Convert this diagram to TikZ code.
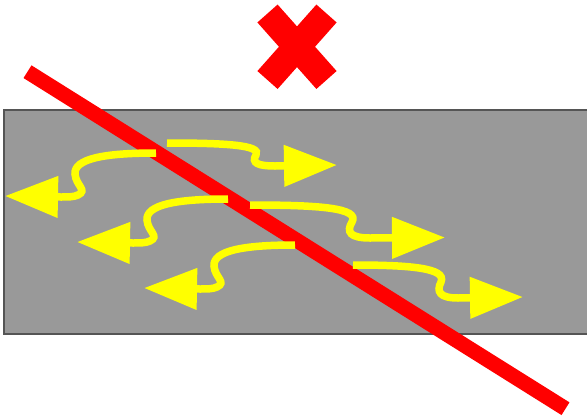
\documentclass[tikz,border=0pt]{standalone}
\usepackage{tikz}
\usetikzlibrary{arrows.meta}
\usepackage{xcolor}

\definecolor{slab}{RGB}{153,153,153}
\definecolor{slabedge}{RGB}{85,85,85}
\definecolor{cutred}{RGB}{255,0,0}
\definecolor{flowyellow}{RGB}{255,255,0}

\tikzset{
  flow/.style={draw=flowyellow, line width=7.5, line cap=butt,
    -{Triangle[length=53pt,width=40pt,fill=flowyellow]}},
  cutline/.style={draw=cutred, line width=15, line cap=butt},
  crossbar/.style={draw=cutred, line width=27, line cap=butt}
}

\begin{document}
\begin{tikzpicture}[x=1pt,y=1pt,yscale=-1,xscale=1]
  \useasboundingbox (0,0) rectangle (587,416);

  %Rectangle
  \draw [fill=slab, draw=slabedge, line width=1.5] (4,110) rectangle (600,334);

  %Straight Lines (cut)
  \draw [cutline] (27.5,71.7) -- (565.5,408.7);

  %Cross
  \draw [crossbar] (267.5,13.5) -- (326.5,80);
  \draw [crossbar] (326.5,13.5) -- (267.5,80);

  %Curve Lines (left)
  \draw [flow] (156,153) .. controls (103,153) and (74,159) .. (75,174) .. controls (76,186) and (88,190) .. (78,195) .. controls (74,197) and (68,197) .. (61,197) -- (5,196);
  \draw [flow] (228,199) .. controls (175,199) and (146,205) .. (147,220) .. controls (148,232) and (160,236) .. (150,241) .. controls (146,243) and (140,243) .. (133,243) -- (77,242);
  \draw [flow] (295,245) .. controls (242,245) and (213,251) .. (214,266) .. controls (215,278) and (227,282) .. (217,287) .. controls (213,289) and (207,289) .. (200,289) -- (144,288);

  %Curve Lines (right)
  \draw [flow] (167,143) .. controls (225,143) and (262,145) .. (256,155) .. controls (251,163) and (258,166) .. (275,166) -- (337,165);
  \draw [flow] (250,205) .. controls (320,205) and (360,208) .. (352,222) .. controls (346,232) and (350,238) .. (370,238) -- (445,237.5);
  \draw [flow] (353,265) .. controls (410,265) and (447,268) .. (441,282) .. controls (436,292) and (440,298) .. (458,298) -- (523,297);
\end{tikzpicture}
\end{document}
